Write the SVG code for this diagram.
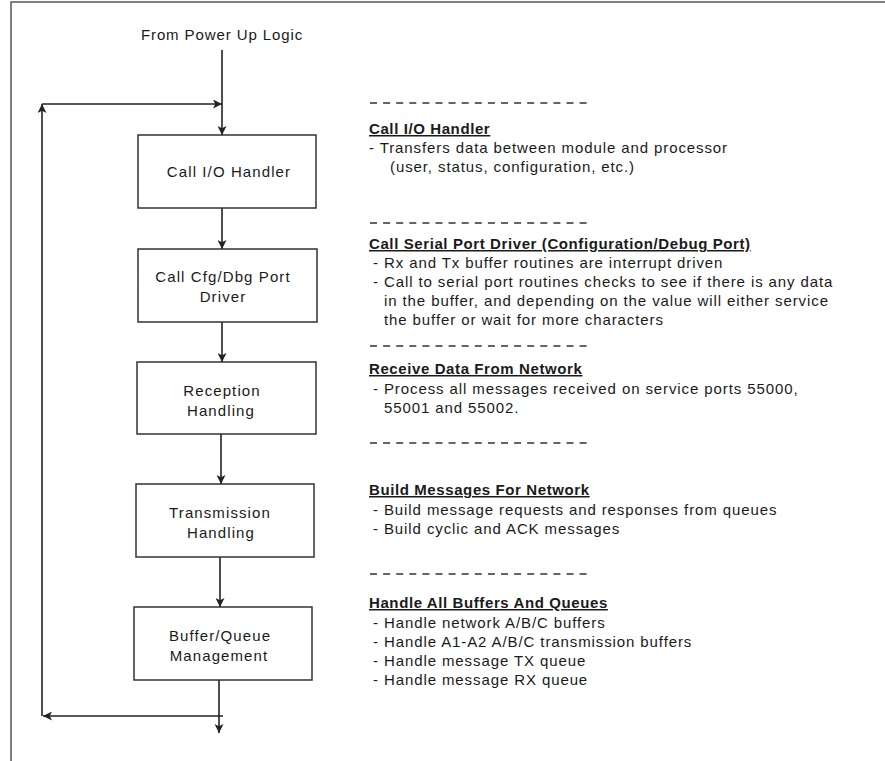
<svg xmlns="http://www.w3.org/2000/svg" width="885" height="761" viewBox="0 0 885 761">
<style>
  text { font-family: "Liberation Sans", Arial, sans-serif; font-size: 15px; fill: #1a1a1a; }
  .box { fill: #fff; stroke: #333; stroke-width: 1.5; }
  .bt { text-anchor: middle; letter-spacing: 1.1px; }
  .line { fill: none; stroke: #222; stroke-width: 1.6; }
  .frame { fill: none; stroke: #555; stroke-width: 1.5; }
  .dash { stroke: #333; stroke-width: 1.6; stroke-dasharray: 7 6.1; }
  .h { font-weight: bold; text-decoration: underline; letter-spacing: 0.6px; }
  .b { letter-spacing: 0.9px; }
</style>
<defs>
  <marker id="ah" viewBox="0 0 10 10" refX="10" refY="5" markerWidth="9" markerHeight="9" markerUnits="userSpaceOnUse" orient="auto">
    <path d="M0,0 L10,5 L0,10 L2.5,5 z" fill="#222"/>
  </marker>
</defs>
<rect width="885" height="761" fill="#fff"/>
<path class="frame" d="M11,761 V2 H885"/>

<g id="start-label"><text x="222" y="40" class="bt" style="letter-spacing:0.9px">From Power Up Logic</text></g>

<g id="connectors">
  <path class="line" d="M222,50 V135" marker-end="url(#ah)"/>
  <path class="line" d="M42,104 H222" marker-end="url(#ah)"/>
  <path class="line" d="M42,716 V104" marker-end="url(#ah)"/>
  <path class="line" d="M222,208 V249" marker-end="url(#ah)"/>
  <path class="line" d="M222,322 V362" marker-end="url(#ah)"/>
  <path class="line" d="M221,434 V484" marker-end="url(#ah)"/>
  <path class="line" d="M220,557 V607" marker-end="url(#ah)"/>
  <path class="line" d="M219,680 V733" marker-end="url(#ah)"/>
  <path class="line" d="M223,716 H43" marker-end="url(#ah)"/>
</g>

<g id="n1"><rect class="box" x="138" y="135" width="178" height="73"/><text class="bt" x="229" y="177">Call I/O Handler</text></g>
<g id="n2"><rect class="box" x="138" y="249" width="179" height="73"/><text class="bt" x="223" y="282">Call Cfg/Dbg Port</text><text class="bt" x="223" y="302">Driver</text></g>
<g id="n3"><rect class="box" x="137" y="362" width="179" height="72"/><text class="bt" x="222" y="396">Reception</text><text class="bt" x="221" y="416">Handling</text></g>
<g id="n4"><rect class="box" x="136" y="484" width="178" height="73"/><text class="bt" x="220" y="518">Transmission</text><text class="bt" x="221" y="538">Handling</text></g>
<g id="n5"><rect class="box" x="134" y="607" width="178" height="73"/><text class="bt" x="220" y="641">Buffer/Queue</text><text class="bt" x="219" y="661">Management</text></g>

<g id="notes">
  <line class="dash" x1="370" y1="103" x2="587" y2="103"/>
  <text class="h" x="369" y="134">Call I/O Handler</text>
  <text class="b" x="369" y="153">- Transfers data between module and processor</text>
  <text class="b" x="390" y="172">(user, status, configuration, etc.)</text>

  <line class="dash" x1="370" y1="223" x2="587" y2="223"/>
  <text class="h" x="369" y="249">Call Serial Port Driver (Configuration/Debug Port)</text>
  <text class="b" x="373" y="268">- Rx and Tx buffer routines are interrupt driven</text>
  <text class="b" x="373" y="287">- Call to serial port routines checks to see if there is any data</text>
  <text class="b" x="384" y="306">in the buffer, and depending on the value will either service</text>
  <text class="b" x="384" y="325">the buffer or wait for more characters</text>

  <line class="dash" x1="370" y1="346" x2="587" y2="346"/>
  <text class="h" x="369" y="374">Receive Data From Network</text>
  <text class="b" x="373" y="394">- Process all messages received on service ports 55000,</text>
  <text class="b" x="384" y="413">55001 and 55002.</text>

  <line class="dash" x1="370" y1="443" x2="587" y2="443"/>
  <text class="h" x="369" y="495">Build Messages For Network</text>
  <text class="b" x="373" y="515">- Build message requests and responses from queues</text>
  <text class="b" x="373" y="534">- Build cyclic and ACK messages</text>

  <line class="dash" x1="370" y1="574" x2="587" y2="574"/>
  <text class="h" x="369" y="608">Handle All Buffers And Queues</text>
  <text class="b" x="373" y="628">- Handle network A/B/C buffers</text>
  <text class="b" x="373" y="647">- Handle A1-A2 A/B/C transmission buffers</text>
  <text class="b" x="373" y="666">- Handle message TX queue</text>
  <text class="b" x="373" y="685">- Handle message RX queue</text>
</g>
</svg>
